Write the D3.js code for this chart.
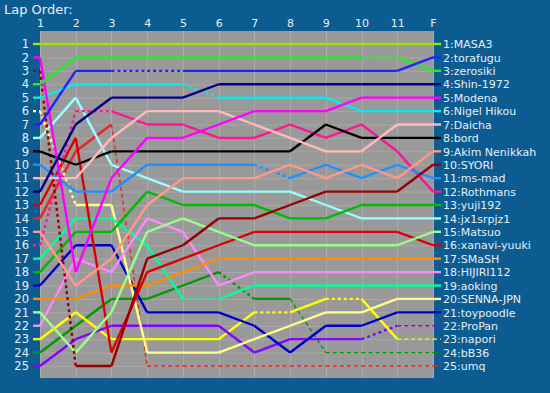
<!DOCTYPE html>
<html><head><meta charset="utf-8">
<script src="https://cdn.jsdelivr.net/npm/d3@7"></script>
<style>html,body{margin:0;padding:0;background:#0c5c91;}svg{display:block;}</style>
</head><body>
<svg id="chart" width="550" height="393"></svg>
<script>
// ---- data ----
const laps = ["1","2","3","4","5","6","7","8","9","10","11","F"];
const drivers = ["MASA3","torafugu","zerosiki","Shin-1972","Modena","Nigel Hikou","Daicha","bord","Akim Nenikkah","SYORI","ms-mad","Rothmans","yuji192","jx1srpjz1","Matsuo","xanavi-yuuki","SMaSH","HIJIRI112","aoking","SENNA-JPN","toypoodle","ProPan","napori","bB36","umq"];
const colors = ["#99e600","#2222ff","#22ee22","#000088","#ff00ff","#00eeee","#ffbbbb","#000000","#ff9988","#990000","#1e90ff","#ff1493","#00bb00","#99ffff","#99ff88","#dd0000","#ff8c00","#ff88ff","#00ff99","#ffff88","#0000cc","#8800ff","#ffff00","#009900","#ee2222"];

const MASA3        = [1,1,1,1,1,1,1,1,1,1,1,1];
const torafugu     = [7,3,3,3,3,3,3,3,3,3,3,2];
const zerosiki     = [4,2,2,2,2,2,2,2,2,2,2,3];
const shin1972     = [12,7,5,5,5,4,4,4,4,4,4,4];
const Modena       = [2,18,11,8,8,7,6,6,6,5,5,5];
const nigelHikou   = [5,4,4,4,4,5,5,5,5,6,6,6];
const Daicha       = [11,11,8,6,6,6,7,8,9,9,7,7];
const bord         = [9,10,9,9,9,9,9,9,7,8,8,8];
const akimNenikkah = [15,19,17,13,11,11,11,10,11,10,11,9];
const SYORI        = [3,25,25,17,16,14,14,13,12,12,12,10];
const msMad        = [10,12,12,10,10,10,10,11,10,11,10,11];
const Rothmans     = [16,6,6,7,7,8,8,7,8,7,9,12];
const yuji192      = [18,15,15,12,13,13,13,14,14,13,13,13];
const jx1srpjz1    = [8,5,10,11,12,12,12,12,13,14,14,14];
const Matsuo       = [21,24,21,15,14,15,16,16,16,16,16,15];
const xanaviYuuki  = [13,8,24,18,17,16,15,15,15,15,15,16];
const SMaSH        = [20,20,19,19,18,17,17,17,17,17,17,17];
const HIJIRI112    = [22,17,18,14,15,19,18,18,18,18,18,18];
const aoking       = [17,14,14,16,20,20,19,19,19,19,19,19];
const sennaJPN     = [6,13,13,24,24,24,23,22,21,21,20,20];
const toypoodle    = [19,16,16,21,21,21,22,24,22,22,21,21];
const ProPan       = [25,23,22,22,22,22,24,23,23,23,22,22];
const napori       = [23,21,23,23,23,23,21,21,20,20,23,23];
const bB36         = [24,22,20,20,19,18,20,20,24,24,24,24];
const umq          = [14,9,7,25,25,25,25,25,25,25,25,25];
const series = [MASA3,torafugu,zerosiki,shin1972,Modena,nigelHikou,Daicha,bord,akimNenikkah,SYORI,msMad,Rothmans,yuji192,jx1srpjz1,Matsuo,xanaviYuuki,SMaSH,HIJIRI112,aoking,sennaJPN,toypoodle,ProPan,napori,bB36,umq];

// segment indices (from lap i to lap i+1) drawn dotted / dashed
const dottedSegs = {"torafugu":[2,3],"zerosiki":[9],"Nigel Hikou":[4],"SYORI":[0],"ms-mad":[6],"Rothmans":[0,1],"aoking":[4],"SENNA-JPN":[0],"ProPan":[9],"napori":[6,8],"bB36":[5]};
const dashedSegs = {"ProPan":[10],"napori":[10],"bB36":[7,8,9,10],"umq":[2,3,4,5,6,7,8,9,10]};
const rowTicks = d3.range(1,26);

// ---- drawing ----
const svg = d3.select("#chart");
const W = 550, H = 393;
const plot = {left:40, right:433, top:31, bottom:378};
const x = d3.scalePoint().domain(laps).range([plot.left, plot.right]);
const y = d3.scaleLinear().domain([1,25]).range([44, 366]);
const font = "'DejaVu Sans', Verdana, sans-serif";
const txt = "#e6eef6";

svg.append("rect").attr("width",W).attr("height",H).attr("fill","#0c5c91");
svg.append("rect").attr("x",plot.left).attr("y",plot.top)
  .attr("width",plot.right-plot.left).attr("height",plot.bottom-plot.top).attr("fill","#999999");

// grid
svg.append("g").selectAll("line").data(rowTicks).join("line")
  .attr("x1",plot.left).attr("x2",plot.right)
  .attr("y1",d=>y(d)+0.5).attr("y2",d=>y(d)+0.5)
  .attr("stroke","#a9a9a9").attr("stroke-width",1);
svg.append("g").selectAll("line").data(laps).join("line")
  .attr("x1",d=>Math.round(x(d))+0.5).attr("x2",d=>Math.round(x(d))+0.5)
  .attr("y1",plot.top).attr("y2",plot.bottom)
  .attr("stroke","#ababab").attr("stroke-width",1);

// title
svg.append("text").attr("x",4).attr("y",13.5).attr("fill",txt)
  .style("font-family",font).style("font-size","13px").text("Lap Order:");

// top lap labels (axis)
const topAxis = d3.axisTop(x).tickSize(0).tickPadding(0);
const ta = svg.append("g").attr("transform","translate(0,27)").call(topAxis);
ta.select(".domain").remove();
ta.selectAll("text").attr("fill",txt).style("font-family",font).style("font-size","11px");

// left row labels (axis)
const leftAxis = d3.axisLeft(y).tickValues(rowTicks).tickFormat(d3.format("d")).tickSize(0).tickPadding(0);
const la = svg.append("g").attr("transform","translate(29,0)").call(leftAxis);
la.select(".domain").remove();
la.selectAll("text").attr("fill",txt).style("font-family",font).style("font-size","11.5px");

function segStyle(name, i){
  if ((dashedSegs[name]||[]).includes(i)) return {w:1.4, dash:"4,3"};
  if ((dottedSegs[name]||[]).includes(i)) return {w:2.4, dash:"3,3"};
  return {w:2.4, dash:null};
}

const line = d3.line().x(d=>d[0]).y(d=>d[1]);
const gLines = svg.append("g").attr("fill","none").attr("stroke-linejoin","round");

for (let k = drivers.length-1; k >= 0; k--){
  const name = drivers[k], vals = series[k], col = colors[k];
  // left stub
  const s0 = segStyle(name, 0);
  gLines.append("path").attr("d", line([[33,y(vals[0])],[x(laps[0]),y(vals[0])]]))
    .attr("stroke",col).attr("stroke-width",s0.w).attr("stroke-dasharray",s0.dash);
  for (let i = 0; i < laps.length-1; i++){
    const s = segStyle(name, i);
    gLines.append("path")
      .attr("d", line([[x(laps[i]),y(vals[i])],[x(laps[i+1]),y(vals[i+1])]]))
      .attr("stroke",col).attr("stroke-width",s.w).attr("stroke-dasharray",s.dash);
  }
  // right stub
  const sl = segStyle(name, laps.length-2);
  const yl = y(vals[vals.length-1]);
  gLines.append("path").attr("d", line([[x(laps[laps.length-1]),yl],[441,yl]]))
    .attr("stroke",col).attr("stroke-width",sl.w).attr("stroke-dasharray",sl.dash);
  // right label
  svg.append("text").attr("x",443).attr("y",yl+4.2).attr("fill",txt)
    .style("font-family",font).style("font-size","11px")
    .text((k+1)+":"+name);
}
</script>
</body></html>
